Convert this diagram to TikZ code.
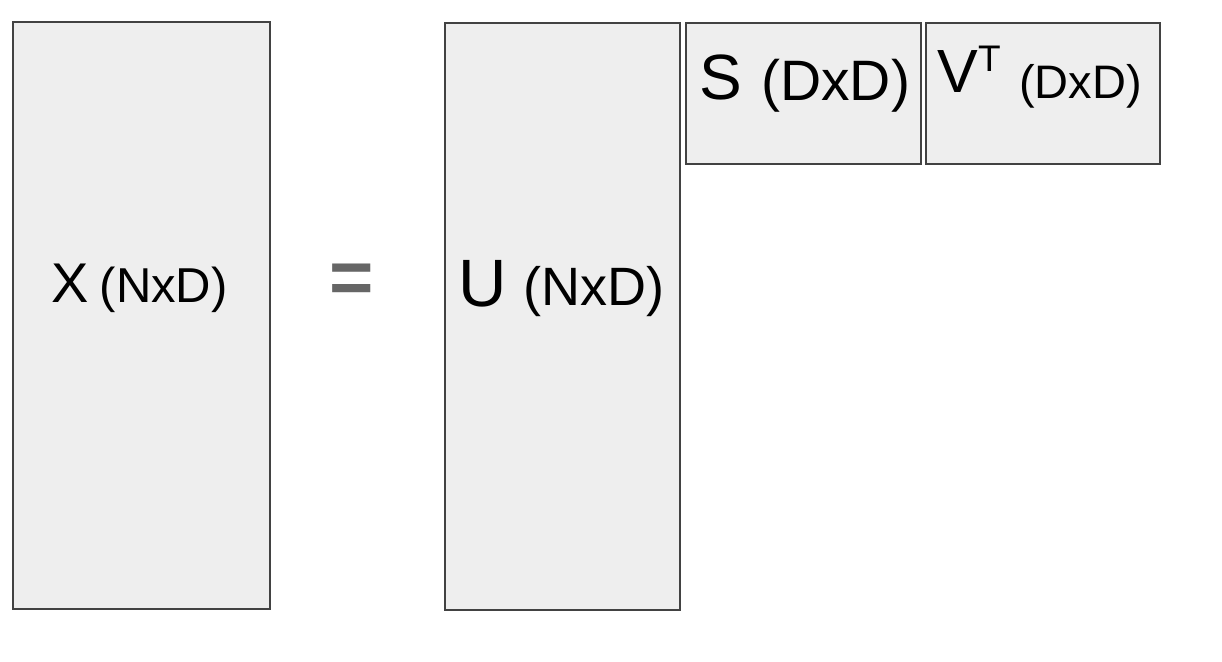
\documentclass[tikz,border=0pt]{standalone}
\usepackage{fontspec}
\setmainfont{Liberation Sans}
\usepackage{tikz}
\usetikzlibrary{positioning}
\definecolor{boxfill}{HTML}{EEEEEE}
\definecolor{boxline}{HTML}{424242}
\definecolor{eqgray}{HTML}{666666}

\begin{document}
\begin{tikzpicture}[x=1pt,y=-1pt,
    matbox/.style={draw=boxline,fill=boxfill,line width=1.2pt,inner sep=0pt},
    lbl/.style={anchor=base west,inner sep=0pt,text=black}]
          \useasboundingbox (0,0) rectangle (1222,661);
          % the matrices
          \node[matbox,minimum width=257,minimum height=587] (X) at (141.5,315.5) {};
          \node[matbox,minimum width=235,minimum height=587] (U) at (562.5,316.5) {};
          \node[matbox,minimum width=235,minimum height=141] (S) at (803.5,93.5) {};
          \node[matbox,minimum width=234,minimum height=141] (V) at (1043,93.5) {};
          % names and sizes
          \node[lbl,font=\fontsize{56}{60}\selectfont] (Xname) at (51,302) {X};
          \node[lbl,font=\fontsize{49}{54}\selectfont] (Xdim) at (99.5,302) {(NxD)};
          \node[lbl,font=\fontsize{67}{70}\selectfont] (Uname) at (458,306) {U};
          \node[lbl,font=\fontsize{54}{58}\selectfont] (Udim) at (523,305) {(NxD)};
          \node[lbl,font=\fontsize{64}{68}\selectfont] (Sname) at (699,99) {S};
          \node[lbl,font=\fontsize{57}{60}\selectfont] (Sdim) at (761,100) {(DxD)};
          \node[lbl,font=\fontsize{61}{66}\selectfont] (Vname) at (937,92) {V};
          \node[lbl,font=\fontsize{37}{40}\selectfont] (Vsup) at (978,71) {T};
          \node[lbl,font=\fontsize{47}{50}\selectfont] (Vdim) at (1019,98) {(DxD)};
          % equals sign
          \node[inner sep=0pt,text=eqgray,font=\bfseries\fontsize{76}{80}\selectfont] (eq) at (351.5,283.5) {=};
        \end{tikzpicture}
\end{document}
